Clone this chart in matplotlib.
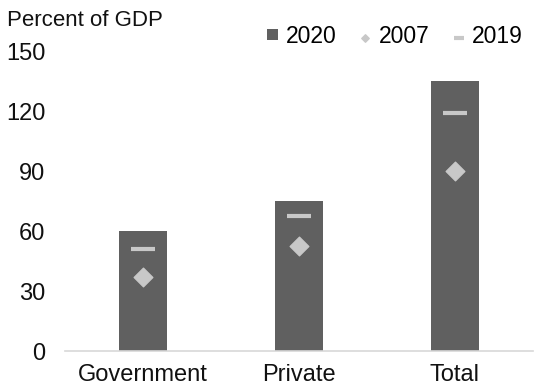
import numpy as np
import matplotlib.pyplot as plt

plt.rcParams['font.family'] = ['Liberation Sans', 'DejaVu Sans']

categories = ["Government", "Private", "Total"]
debt_2020 = [60, 75, 135]
debt_2007 = [37, 52.5, 90]
debt_2019 = [51, 67.5, 119]
yticks = [0, 30, 60, 90, 120, 150]

BAR = "#606060"
MARK = "#c8c8c8"

fig = plt.figure(figsize=(5.58, 3.87), dpi=100)
ax = fig.add_axes([0.1165, 0.093, 0.8385, 0.775])

x = np.arange(len(categories))
bars = ax.bar(x, debt_2020, width=0.31, color=BAR, label="2020", zorder=2)
dia = ax.scatter(x, debt_2007, marker="D", s=90, color=MARK, label="2007", zorder=3)
dash = ax.scatter(x, debt_2019, marker="_", s=300, linewidths=3, color=MARK, label="2019", zorder=3)

ax.set_xlim(-0.5, 2.5)
ax.set_ylim(0, 150)
ax.set_yticks(yticks)
ax.set_xticks(x)
ax.set_xticklabels(categories)
ax.tick_params(axis="both", length=0, labelsize=17, colors="#111111")
ax.tick_params(axis="y", pad=14)
ax.tick_params(axis="x", pad=9)
for s in ["left", "right", "top"]:
    ax.spines[s].set_visible(False)
ax.spines["bottom"].set_color("#d8d8d8")
ax.spines["bottom"].set_linewidth(1.2)

fig.text(0.012, 0.948, "Percent of GDP", fontsize=16, color="#111111", va="center")

leg = ax.legend([bars, dia, dash], ["2020", "2007", "2019"],
                loc="center", bbox_to_anchor=(0.705, 1.05), ncol=3, frameon=False,
                fontsize=16.5, handlelength=0.5, handleheight=0.4, handletextpad=0.35,
                columnspacing=1.0, markerscale=0.4)

fig.savefig("out.png", dpi=100)
